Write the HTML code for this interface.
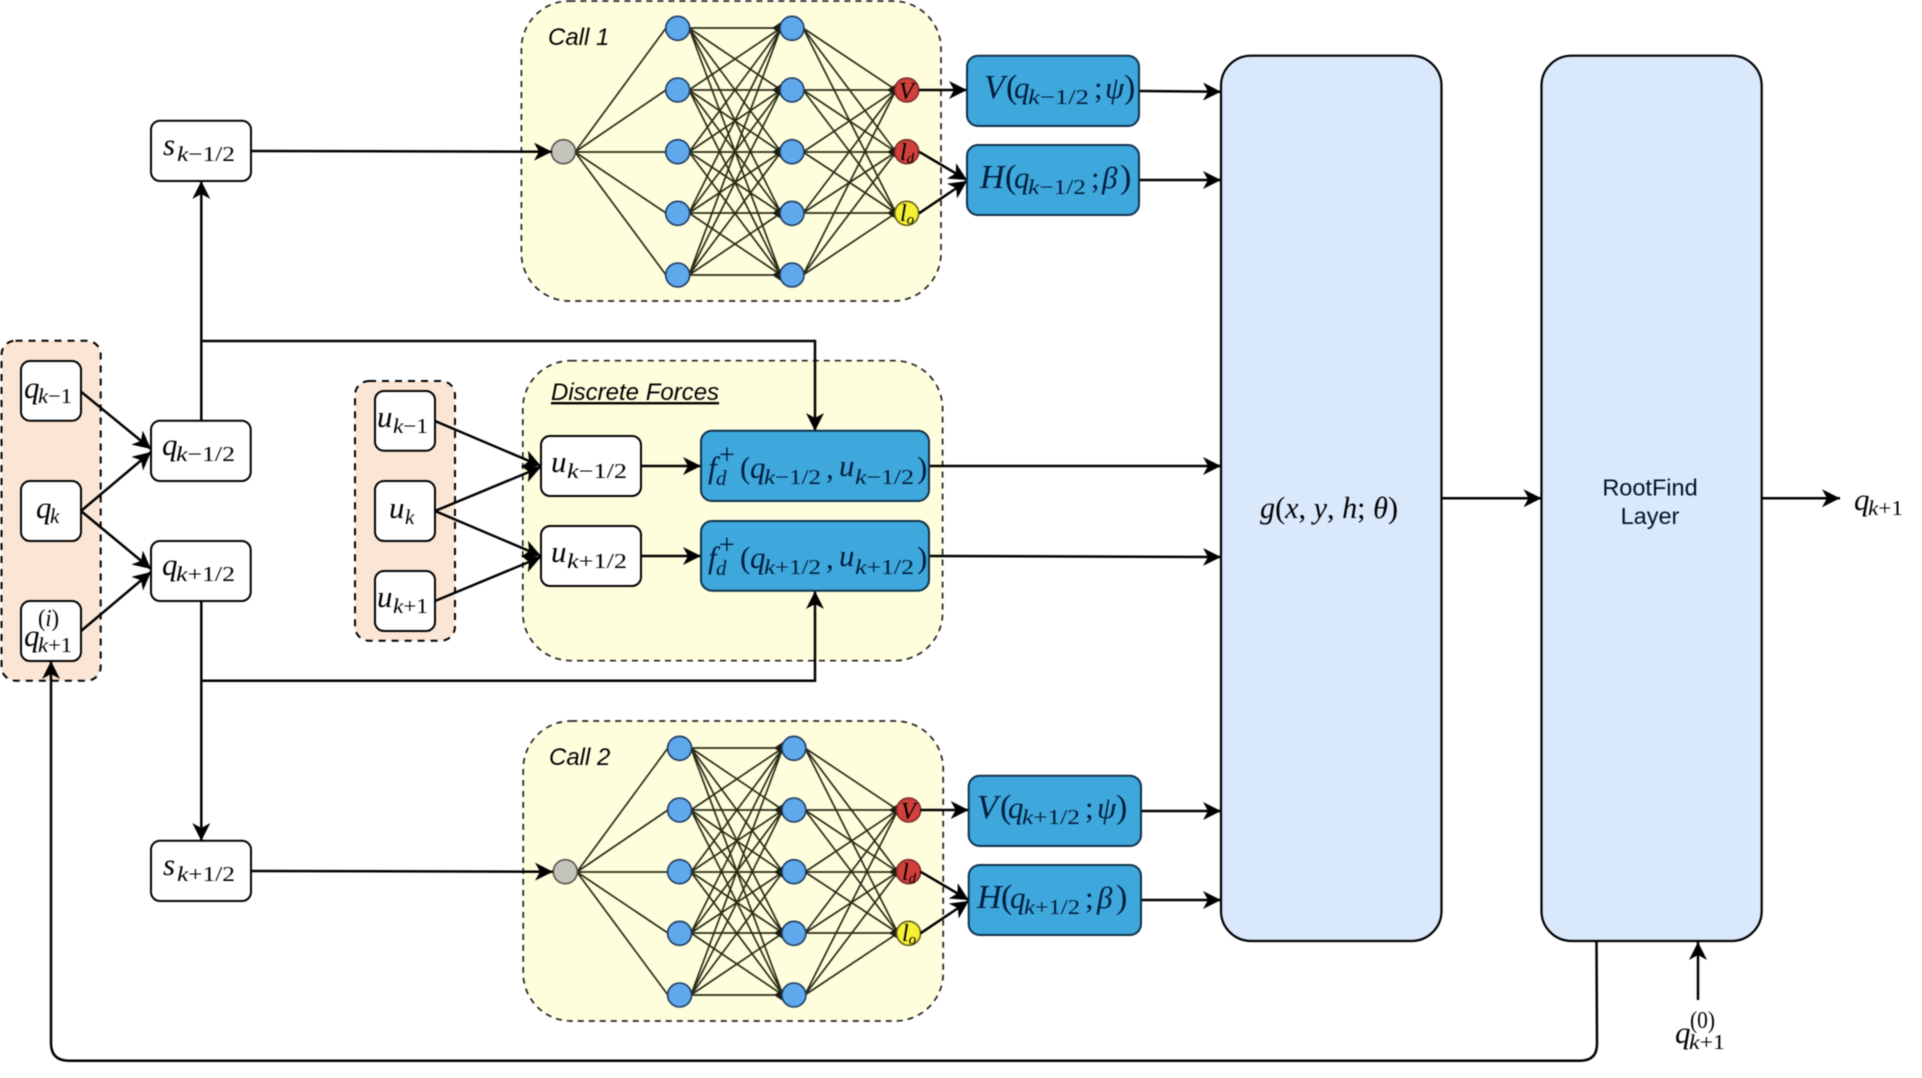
<!DOCTYPE html>
<html><head><meta charset="utf-8"><style>
html,body{margin:0;padding:0;background:#fff}
svg{display:block;filter:blur(0.4px)}
.m{font:italic 31px "Liberation Serif",serif;fill:#000}
.s{font:italic 21px "Liberation Serif",serif;fill:#000}
.n{font-style:normal}
.b{fill:#001c3c}
.l{font:italic 24px "Liberation Sans",sans-serif;fill:#000}
.e{fill:#fff;stroke:#000;stroke-width:2}
.c{fill:none;stroke:#000;stroke-width:2.5}
.y{fill:#fefedc;stroke:#222;stroke-width:1.7;stroke-dasharray:6 5}
.o{fill:#fbe6d6;stroke:#000;stroke-width:2;stroke-dasharray:7 6}
.f{fill:#3ea8dc;stroke:#10304a;stroke-width:2}
.g{fill:#dae8fc;stroke:#000;stroke-width:2.2}
</style></head><body>
<svg width="1922" height="1078" viewBox="0 0 1922 1078" xmlns="http://www.w3.org/2000/svg">
<defs>
<marker id="a" markerUnits="userSpaceOnUse" markerWidth="20" markerHeight="20" refX="18" refY="10" orient="auto"><path d="M18 10L0 1L5 10L0 19z" fill="#000"/></marker>
<g id="nn">
<path fill="none" stroke="#2c2c18" stroke-width="1.7" d="M575 152L666 28M575 152L666 90M575 152L666 152M575 152L666 213M575 152L666 275
M689 28L781 28M689 28L781 90M689 28L781 152M689 28L781 213M689 28L781 275
M689 90L781 28M689 90L781 90M689 90L781 152M689 90L781 213M689 90L781 275
M689 152L781 28M689 152L781 90M689 152L781 152M689 152L781 213M689 152L781 275
M689 213L781 28M689 213L781 90M689 213L781 152M689 213L781 213M689 213L781 275
M689 275L781 28M689 275L781 90M689 275L781 152M689 275L781 213M689 275L781 275
M803 28L896 90M803 28L896 152M803 28L896 213
M803 90L896 90M803 90L896 152M803 90L896 213
M803 152L896 90M803 152L896 152M803 152L896 213
M803 213L896 90M803 213L896 152M803 213L896 213
M803 275L896 90M803 275L896 152M803 275L896 213"/>
<path fill="#1c1c10" d="M781 22l-9 6 9 6zM781 84l-9 6 9 6zM781 146l-9 6 9 6zM781 207l-9 6 9 6zM781 269l-9 6 9 6zM896 84l-9 6 9 6zM896 146l-9 6 9 6zM896 207l-9 6 9 6z"/>
<g fill="#60a8ec" stroke="#1c3c60" stroke-width="1.6">
<circle cx="677.7" cy="28.3" r="12"/><circle cx="677.7" cy="90" r="12"/><circle cx="677.7" cy="151.7" r="12"/><circle cx="677.7" cy="213.3" r="12"/><circle cx="677.7" cy="275" r="12"/>
<circle cx="792" cy="28.3" r="12"/><circle cx="792" cy="90" r="12"/><circle cx="792" cy="151.7" r="12"/><circle cx="792" cy="213.3" r="12"/><circle cx="792" cy="275" r="12"/>
</g>
<circle cx="563.4" cy="151.7" r="12" fill="#c4c4bc" stroke="#55554c" stroke-width="1.6"/>
<circle cx="906.7" cy="90" r="12" fill="#d2403c" stroke="#7c2c28" stroke-width="1.6"/>
<circle cx="906.7" cy="151.7" r="12" fill="#d2403c" stroke="#7c2c28" stroke-width="1.6"/>
<circle cx="906.7" cy="213.3" r="12" fill="#f6f034" stroke="#66601c" stroke-width="1.6"/>
</g>
</defs>
<rect width="1922" height="1078" fill="#fff"/>

<rect class="y" x="521.4" y="1" width="419.6" height="300" rx="48"/>
<rect class="y" x="522.8" y="360.7" width="419.8" height="300" rx="48"/>
<rect class="y" x="523.2" y="721" width="420" height="300" rx="48"/>
<rect class="o" x="1.5" y="340.7" width="99.2" height="340" rx="14"/>
<rect class="o" x="355" y="381" width="100" height="259.7" rx="14"/>

<use href="#nn"/>
<use href="#nn" transform="translate(1.9 720)"/>

<rect class="g" x="1221" y="55.7" width="220.5" height="885.3" rx="30"/>
<rect class="g" x="1541.5" y="55.7" width="220.2" height="885.3" rx="30"/>

<g class="c">
<path d="M251 151L552 151.7" marker-end="url(#a)"/>
<path d="M251 871L553 871.7" marker-end="url(#a)"/>
<path d="M201.3 421V181" marker-end="url(#a)"/>
<path d="M201.3 601V841" marker-end="url(#a)"/>
<path d="M201.3 341H815V431" marker-end="url(#a)"/>
<path d="M201.3 680.7H815V591" marker-end="url(#a)"/>
<path d="M81 391.7L151 449" marker-end="url(#a)"/>
<path d="M81 511L151 452" marker-end="url(#a)"/>
<path d="M81 511L151 569" marker-end="url(#a)"/>
<path d="M81 631L151 572" marker-end="url(#a)"/>
<path d="M435 421L541 466" marker-end="url(#a)"/>
<path d="M435 511L541 467" marker-end="url(#a)"/>
<path d="M435 511L541 556" marker-end="url(#a)"/>
<path d="M435 601L541 557" marker-end="url(#a)"/>
<path d="M641 466H701" marker-end="url(#a)"/>
<path d="M641 556H701" marker-end="url(#a)"/>
<path d="M929 466H1221" marker-end="url(#a)"/>
<path d="M929 556L1221 557" marker-end="url(#a)"/>
<path d="M919 90H967" marker-end="url(#a)"/>
<path d="M919 151.7L967 180" marker-end="url(#a)"/>
<path d="M919 213.3L967 181" marker-end="url(#a)"/>
<path d="M1139 91L1221 91.7" marker-end="url(#a)"/>
<path d="M1139 180H1221" marker-end="url(#a)"/>
<path d="M920.5 810H968.7" marker-end="url(#a)"/>
<path d="M920.5 871.7L968.7 900" marker-end="url(#a)"/>
<path d="M920.5 933.3L968.7 901" marker-end="url(#a)"/>
<path d="M1141 811H1221" marker-end="url(#a)"/>
<path d="M1141 900H1221" marker-end="url(#a)"/>
<path d="M1441.5 498.3H1541.5" marker-end="url(#a)"/>
<path d="M1761.7 498.3H1840" marker-end="url(#a)"/>
<path d="M1698 1000V942" marker-end="url(#a)"/>
<path d="M1596.5 941L1597 1044Q1597 1060.7 1580 1060.7H69Q51 1060.7 51 1043V661" marker-end="url(#a)"/>
</g>

<rect class="e" x="21" y="361" width="60" height="59.7" rx="9"/>
<rect class="e" x="21" y="481" width="60" height="60" rx="9"/>
<rect class="e" x="21" y="601" width="60" height="60" rx="9"/>
<rect class="e" x="151" y="420.7" width="99.7" height="60.3" rx="9"/>
<rect class="e" x="151" y="541" width="99.7" height="60" rx="9"/>
<rect class="e" x="151" y="120.7" width="100" height="60.3" rx="9"/>
<rect class="e" x="151" y="840.7" width="100" height="60.3" rx="9"/>
<rect class="e" x="375" y="391" width="60" height="59.7" rx="9"/>
<rect class="e" x="375" y="481" width="60" height="60" rx="9"/>
<rect class="e" x="375" y="571" width="60" height="60" rx="9"/>
<rect class="e" x="541" y="436" width="100" height="60" rx="9"/>
<rect class="e" x="541" y="526" width="100" height="60" rx="9"/>

<rect class="f" x="701" y="430.7" width="228" height="70.3" rx="11"/>
<rect class="f" x="701" y="521" width="228" height="69.7" rx="11"/>
<rect class="f" x="967" y="55.7" width="172" height="70.3" rx="11"/>
<rect class="f" x="967" y="145" width="172" height="70" rx="11"/>
<rect class="f" x="968.7" y="775.7" width="172.3" height="70.3" rx="11"/>
<rect class="f" x="968.7" y="865" width="172.3" height="70" rx="11"/>

<text class="l" x="548" y="45">Call 1</text>
<text class="l" x="549" y="765">Call 2</text>
<text class="l" x="551" y="400" text-decoration="underline">Discrete Forces</text>
<text x="1650" y="495.7" text-anchor="middle" style="font:23.5px 'Liberation Sans',sans-serif" fill="#001028">RootFind</text>
<text x="1650" y="524" text-anchor="middle" style="font:23.5px 'Liberation Sans',sans-serif" fill="#001028">Layer</text>

<text class="m" x="24" y="398">q</text><text class="s" x="38" y="403" textLength="34" lengthAdjust="spacingAndGlyphs">k<tspan class="n">−1</tspan></text>
<text class="m" x="36" y="518">q</text><text class="s" x="50" y="523">k</text>
<text class="m" x="24" y="646">q</text><text class="s" x="38" y="652" textLength="34" lengthAdjust="spacingAndGlyphs">k<tspan class="n">+1</tspan></text>
<text x="38" y="626" textLength="21" lengthAdjust="spacingAndGlyphs" class="s" style="font-size:24px"><tspan class="n">(</tspan>i<tspan class="n">)</tspan></text>
<text class="m" x="162" y="455">q</text><text class="s" x="176" y="461" textLength="59" lengthAdjust="spacingAndGlyphs">k<tspan class="n">−1/2</tspan></text>
<text class="m" x="162" y="575">q</text><text class="s" x="176" y="581" textLength="59" lengthAdjust="spacingAndGlyphs">k<tspan class="n">+1/2</tspan></text>
<text class="m" x="163" y="155">s</text><text class="s" x="177" y="161" textLength="58" lengthAdjust="spacingAndGlyphs">k<tspan class="n">−1/2</tspan></text>
<text class="m" x="163" y="875">s</text><text class="s" x="177" y="881" textLength="58" lengthAdjust="spacingAndGlyphs">k<tspan class="n">+1/2</tspan></text>
<text class="m" x="377" y="427">u</text><text class="s" x="393" y="433" textLength="35" lengthAdjust="spacingAndGlyphs">k<tspan class="n">−1</tspan></text>
<text class="m" x="389" y="518">u</text><text class="s" x="405" y="524">k</text>
<text class="m" x="377" y="607">u</text><text class="s" x="393" y="613" textLength="35" lengthAdjust="spacingAndGlyphs">k<tspan class="n">+1</tspan></text>
<text class="m" x="551" y="472">u</text><text class="s" x="567" y="478" textLength="60" lengthAdjust="spacingAndGlyphs">k<tspan class="n">−1/2</tspan></text>
<text class="m" x="551" y="562">u</text><text class="s" x="567" y="568" textLength="60" lengthAdjust="spacingAndGlyphs">k<tspan class="n">+1/2</tspan></text>

<g class="b">
<text class="m b" x="708" y="478">f</text><text class="s b" x="719" y="464" style="font-style:normal;font-size:28px">+</text><text class="s b" x="716" y="485">d</text>
<text class="m b" x="740" y="478" style="font-style:normal">(</text><text class="m b" x="750" y="478">q</text><text class="s b" x="764" y="484" textLength="57" lengthAdjust="spacingAndGlyphs">k<tspan class="n">−1/2</tspan></text>
<text class="m b" x="826" y="478" style="font-style:normal">,</text><text class="m b" x="839" y="476">u</text><text class="s b" x="855" y="484" textLength="59" lengthAdjust="spacingAndGlyphs">k<tspan class="n">−1/2</tspan></text><text class="m b" x="917" y="478" style="font-style:normal">)</text>

<text class="m b" x="708" y="568">f</text><text class="s b" x="719" y="554" style="font-style:normal;font-size:28px">+</text><text class="s b" x="716" y="575">d</text>
<text class="m b" x="740" y="568" style="font-style:normal">(</text><text class="m b" x="750" y="568">q</text><text class="s b" x="764" y="574" textLength="57" lengthAdjust="spacingAndGlyphs">k<tspan class="n">+1/2</tspan></text>
<text class="m b" x="826" y="568" style="font-style:normal">,</text><text class="m b" x="839" y="566">u</text><text class="s b" x="855" y="574" textLength="59" lengthAdjust="spacingAndGlyphs">k<tspan class="n">+1/2</tspan></text><text class="m b" x="917" y="568" style="font-style:normal">)</text>

<text class="m b" x="984" y="98" style="font-size:34px">V</text><text class="m b" x="1006" y="98" style="font-style:normal;font-size:34px">(</text><text class="m b" x="1014" y="98">q</text><text class="s b" x="1028" y="104" textLength="61" lengthAdjust="spacingAndGlyphs">k<tspan class="n">−1/2</tspan></text><text class="m b" x="1094" y="98" style="font-style:normal">;</text><text class="m b" x="1105" y="98">ψ</text><text class="m b" x="1124" y="98" style="font-style:normal;font-size:34px">)</text>
<text class="m b" x="980" y="188" style="font-size:34px">H</text><text class="m b" x="1005" y="188" style="font-style:normal;font-size:34px">(</text><text class="m b" x="1014" y="188">q</text><text class="s b" x="1028" y="194" textLength="58" lengthAdjust="spacingAndGlyphs">k<tspan class="n">−1/2</tspan></text><text class="m b" x="1091" y="188" style="font-style:normal">;</text><text class="m b" x="1102" y="188">β</text><text class="m b" x="1120" y="188" style="font-style:normal;font-size:34px">)</text>
<text class="m b" x="977" y="818" style="font-size:34px">V</text><text class="m b" x="1000" y="818" style="font-style:normal;font-size:34px">(</text><text class="m b" x="1008" y="818">q</text><text class="s b" x="1022" y="824" textLength="58" lengthAdjust="spacingAndGlyphs">k<tspan class="n">+1/2</tspan></text><text class="m b" x="1085" y="818" style="font-style:normal">;</text><text class="m b" x="1097" y="818">ψ</text><text class="m b" x="1116" y="818" style="font-style:normal;font-size:34px">)</text>
<text class="m b" x="977" y="908" style="font-size:34px">H</text><text class="m b" x="1001" y="908" style="font-style:normal;font-size:34px">(</text><text class="m b" x="1010" y="908">q</text><text class="s b" x="1024" y="914" textLength="56" lengthAdjust="spacingAndGlyphs">k<tspan class="n">+1/2</tspan></text><text class="m b" x="1085" y="908" style="font-style:normal">;</text><text class="m b" x="1097" y="908">β</text><text class="m b" x="1116" y="908" style="font-style:normal;font-size:34px">)</text>
</g>

<text class="s" x="899" y="99" fill="#3a0c08" style="font-size:24px">V</text>
<text class="s" x="900" y="160" style="font-size:24px">l<tspan font-size="15" dy="3">d</tspan></text>
<text class="s" x="900" y="221" style="font-size:24px">l<tspan font-size="15" dy="3">o</tspan></text>
<text class="s" x="901" y="819" style="font-size:24px">V</text>
<text class="s" x="902" y="880" style="font-size:24px">l<tspan font-size="15" dy="3">d</tspan></text>
<text class="s" x="902" y="941" style="font-size:24px">l<tspan font-size="15" dy="3">o</tspan></text>

<text class="m" x="1260" y="518" textLength="138" lengthAdjust="spacingAndGlyphs">g<tspan class="n">(</tspan>x<tspan class="n">, </tspan>y<tspan class="n">, </tspan>h<tspan class="n">; </tspan>θ<tspan class="n">)</tspan></text>
<text class="m" x="1854" y="510">q</text><text class="s" x="1868" y="515" textLength="35" lengthAdjust="spacingAndGlyphs">k<tspan class="n">+1</tspan></text>
<text class="m" x="1675" y="1043">q</text>
<text class="s" x="1689" y="1049" textLength="36" lengthAdjust="spacingAndGlyphs">k<tspan class="n">+1</tspan></text>
<text class="s" x="1690" y="1028" textLength="25" lengthAdjust="spacingAndGlyphs" style="font-size:24px"><tspan class="n">(0)</tspan></text>
</svg>
</body></html>
